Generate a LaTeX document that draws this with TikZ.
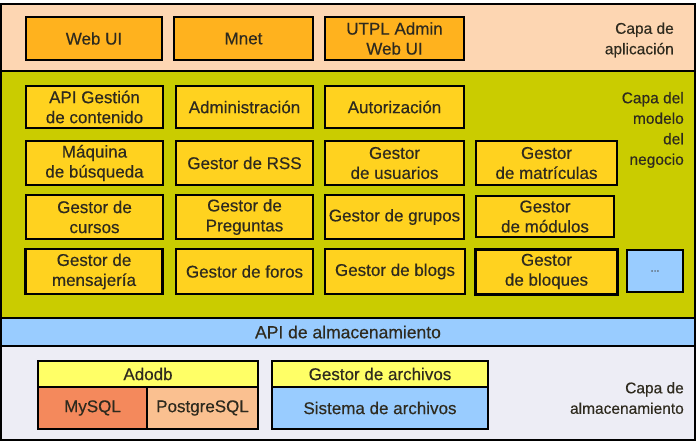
\documentclass[tikz,border=0pt]{standalone}
\usepackage{fontspec}
\setmainfont{Liberation Sans}[FakeBold=0.4]
\definecolor{appbg}{HTML}{FDD6B2}
\definecolor{appbox}{HTML}{FFB21E}
\definecolor{bizbg}{HTML}{CACC00}
\definecolor{bizbox}{HTML}{FFD21F}
\definecolor{apibar}{HTML}{99CCFF}
\definecolor{storebg}{HTML}{EDEDF5}
\definecolor{adoyel}{HTML}{FFFF66}
\definecolor{mysqlc}{HTML}{F4895C}
\definecolor{pgc}{HTML}{FAC090}
\definecolor{txt}{HTML}{2E2A1E}
\begin{document}
\begin{tikzpicture}[x=1pt,y=-1pt,
  layerbox/.style={draw=black, line width=1.6pt, inner sep=0pt},
  box/.style={draw=black, line width=2.2pt, inner sep=0pt, align=center,
    font=\fontsize{17}{20}\selectfont, text=txt},
  appb/.style={box, fill=appbox, minimum height=43pt},
  bizb/.style={box, fill=bizbox},
  stb/.style={draw=black, line width=2pt, inner sep=0pt, align=center,
    font=\fontsize{17}{20}\selectfont, text=txt},
  lbl/.style={anchor=east, align=right, inner sep=0pt,
    font=\fontsize{15.5}{20.5}\selectfont, text=txt}]
\useasboundingbox (0,0) rectangle (698,442);
% layers
\node[layerbox, fill=appbg, minimum width=694pt, minimum height=67pt] (app) at (348,37.5) {};
\node[layerbox, fill=bizbg, minimum width=694pt, minimum height=247pt] (biz) at (348,194.5) {};
\node[layerbox, fill=apibar, minimum width=694pt, minimum height=28pt,
  font=\fontsize{17.5}{20}\selectfont, text=txt] (api) at (348,332) {API de almacenamiento};
\node[layerbox, fill=storebg, minimum width=694pt, minimum height=94pt] (store) at (348,393) {};
% application layer
\node[appb, minimum width=136pt] (webui) at (94,38.5) {Web UI};
\node[appb, minimum width=139pt] (mnet) at (243.5,38.5) {Mnet};
\node[appb, minimum width=139pt] (utpl) at (394.5,38.5) {UTPL Admin\\Web UI};
\node[lbl] (lapp) at (674,40) {Capa de\\aplicación};
% business layer
\node[bizb, minimum width=137pt, minimum height=42pt] (apig) at (94.5,107) {API Gestión\\de contenido};
\node[bizb, minimum width=137pt, minimum height=42pt] (admin) at (244.5,107) {Administración};
\node[bizb, minimum width=139pt, minimum height=42pt] (autor) at (394.5,107) {Autorización};
\node[bizb, minimum width=137pt, minimum height=44pt] (maq) at (94.5,163) {Máquina\\de búsqueda};
\node[bizb, minimum width=137pt, minimum height=44pt] (rss) at (244.5,163) {Gestor de RSS};
\node[bizb, minimum width=139pt, minimum height=44pt] (usu) at (394.5,163) {Gestor\\de usuarios};
\node[bizb, minimum width=141pt, minimum height=44pt] (matr) at (546.5,163) {Gestor\\de matrículas};
\node[bizb, minimum width=137pt, minimum height=44pt] (cursos) at (94.5,217) {Gestor de\\cursos};
\node[bizb, minimum width=137pt, minimum height=44pt] (preg) at (244.5,217) {Gestor de\\Preguntas};
\node[bizb, minimum width=139pt, minimum height=44pt] (grupos) at (394.5,217) {Gestor de grupos};
\node[bizb, minimum width=138pt, minimum height=41pt] (modulos) at (545,216.5) {Gestor\\de módulos};
\node[bizb, minimum width=137pt, minimum height=45pt] (mens) at (94,271.5) {Gestor de\\mensajería};
\node[bizb, minimum width=137pt, minimum height=45pt] (foros) at (244.5,271.5) {Gestor de foros};
\node[bizb, minimum width=140pt, minimum height=45pt] (blogs) at (395,271.5) {Gestor de blogs};
\node[bizb, line width=3pt, minimum width=142pt, minimum height=45pt] (bloques) at (546.5,271.5) {Gestor\\de bloques};
\node[box, fill=apibar, minimum width=56pt, minimum height=42pt, font=\fontsize{10}{12}\selectfont, text=black!70] (more) at (655,271) {...};
\node[lbl] (lbiz) at (684,130) {Capa del\\modelo\\del\\negocio};
% storage layer
\node[stb, fill=adoyel, minimum width=220pt, minimum height=26pt] (adodb) at (148,374) {Adodb};
\node[stb, fill=mysqlc, minimum width=109pt, minimum height=42pt] (mysql) at (92.5,408) {MySQL};
\node[stb, fill=pgc, minimum width=111pt, minimum height=42pt] (pg) at (202.5,408) {PostgreSQL};
\node[stb, fill=adoyel, minimum width=216pt, minimum height=26pt] (garch) at (380,374) {Gestor de archivos};
\node[stb, fill=apibar, minimum width=216pt, minimum height=42pt] (sarch) at (380,408) {Sistema de archivos};
\node[lbl] (lstore) at (684,398) {Capa de\\almacenamiento};
\end{tikzpicture}
\end{document}
